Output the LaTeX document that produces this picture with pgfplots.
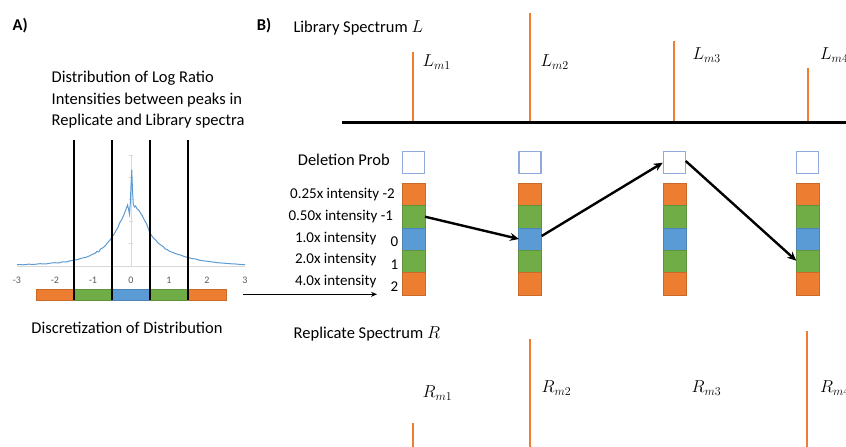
\documentclass[border=0pt]{standalone}
\usepackage{fontspec}
\setmainfont{Carlito}
\usepackage{pgfplots}
\pgfplotsset{compat=1.18}
\usepackage{pgfplotstable}
\usetikzlibrary{arrows.meta}

\definecolor{cOrange}{HTML}{ED7D31}
\definecolor{cGreen}{HTML}{70AD47}
\definecolor{cBlue}{HTML}{5B9BD5}
\definecolor{cBoxEdge}{HTML}{8FAADC}
\definecolor{cAxisGray}{HTML}{D9D9D9}
\definecolor{cTick}{HTML}{595959}

\pgfplotstableread{
x h
-3.00 1.5
-2.85 1.2
-2.70 1.8
-2.55 1.6
-2.40 2.3
-2.25 2.0
-2.10 3.0
-2.00 3.3
-1.90 3.0
-1.80 4.2
-1.70 4.0
-1.60 5.2
-1.50 5.8
-1.40 6.5
-1.30 7.8
-1.20 8.5
-1.10 10.0
-1.00 12.0
-0.95 12.5
-0.90 14.5
-0.85 14.0
-0.80 17.0
-0.75 18.0
-0.70 19.5
-0.65 21.5
-0.60 24.0
-0.55 26.0
-0.50 29.0
-0.45 31.5
-0.40 35.0
-0.35 38.0
-0.30 43.0
-0.25 46.0
-0.20 50.0
-0.15 55.0
-0.12 58.0
-0.09 61.0
-0.06 56.0
-0.04 52.0
-0.02 62.0
0.00 80.0
0.02 96.0
0.04 75.0
0.06 62.0
0.09 59.0
0.12 60.0
0.16 57.0
0.20 56.0
0.25 53.0
0.30 50.0
0.35 46.0
0.40 43.0
0.45 38.0
0.50 33.0
0.55 30.0
0.60 27.5
0.65 26.0
0.70 23.5
0.75 22.0
0.80 20.5
0.85 19.5
0.90 17.0
0.95 16.5
1.00 15.0
1.10 13.5
1.20 12.0
1.30 11.0
1.40 9.5
1.50 8.5
1.60 7.5
1.70 7.0
1.80 5.8
1.90 5.2
2.00 4.8
2.15 4.0
2.30 3.2
2.45 2.8
2.60 2.3
2.75 2.0
2.90 1.5
3.00 1.3
}\distdata

\newcommand\bigf{\fontsize{16.5}{20}\selectfont}
\newcommand\midf{\fontsize{15}{18}\selectfont}
\newcommand\mathf{\fontsize{17.5}{20}\selectfont}

\begin{document}
\begin{tikzpicture}[every node/.append style={inner sep=0pt}, font=\bigf]
\begin{axis}[name=main, at={(0pt,0pt)}, anchor=south west, scale only axis,
  width=846pt, height=447pt, xmin=0, xmax=846, ymin=0, ymax=447,
  y dir=reverse, hide axis, clip=true]
% library peaks
\addplot[cOrange, line width=2.3pt] coordinates {(413.3,122) (413.3,51.7)};
\addplot[cOrange, line width=2.3pt] coordinates {(530.0,122) (530.0,12.7)};
\addplot[cOrange, line width=2.3pt] coordinates {(674.3,122) (674.3,40.7)};
\addplot[cOrange, line width=2.3pt] coordinates {(807.7,122) (807.7,68.3)};
% library baseline
\addplot[black, line width=3pt] coordinates {(342,122.8) (850,122.8)};
% replicate peaks
\addplot[cOrange, line width=2.3pt] coordinates {(413.3,452) (413.3,422.7)};
\addplot[cOrange, line width=2.3pt] coordinates {(529.7,452) (529.7,339.3)};
\addplot[cOrange, line width=2.3pt] coordinates {(807.3,452) (807.3,330.7)};
% deletion boxes and state columns
\pgfplotsinvokeforeach{413.7,530.0,674.5,807.5}{
  \draw[cBoxEdge, line width=1.2pt, fill=white] ({#1-11},151.3) rectangle ({#1+11},173.3);
  \filldraw[fill=cOrange, draw=cOrange!85!black, line width=0.5pt] ({#1-11.3},183.3) rectangle ({#1+11.3},205.6);
  \filldraw[fill=cGreen, draw=cGreen!85!black, line width=0.5pt] ({#1-11.3},205.6) rectangle ({#1+11.3},227.9);
  \filldraw[fill=cBlue, draw=cBlue!85!black, line width=0.5pt] ({#1-11.3},227.9) rectangle ({#1+11.3},250.2);
  \filldraw[fill=cGreen, draw=cGreen!85!black, line width=0.5pt] ({#1-11.3},250.2) rectangle ({#1+11.3},272.5);
  \filldraw[fill=cOrange, draw=cOrange!85!black, line width=0.5pt] ({#1-11.3},272.5) rectangle ({#1+11.3},294.8);
}
% path arrows
\draw[black, line width=2.4pt, -{Stealth[length=9pt,width=8pt]}] (425,216.7) -- (519,239);
\draw[black, line width=2.4pt, -{Stealth[length=9pt,width=8pt]}] (541.7,236) -- (662.7,162.7);
\draw[black, line width=2.4pt, -{Stealth[length=9pt,width=8pt]}] (685.7,161) -- (796.3,260.7);
\draw[black, line width=1.3pt, -{Stealth[length=6pt,width=5pt]}] (243,294.3) -- (377,294.3);
% texts
\node[anchor=west] at (12.5,25.5) {\bfseries A)};
\node[anchor=west] at (256.7,25.5) {\bfseries B)};
\node[anchor=base west] at (51.5,82.3) {Distribution of Log Ratio};
\node[anchor=base west] at (51.5,104.0) {Intensities between peaks in};
\node[anchor=base west] at (51.5,125.7) {Replicate and Library spectra};
\node at (127,328) {Discretization of Distribution};
\node[anchor=base west] at (293.3,32.5) {Library Spectrum {\mathf$L$}};
\node[anchor=east] at (390,160) {Deletion Prob};
\node[anchor=base west] at (293.5,338.5) {Replicate Spectrum {\mathf$R$}};
\node[anchor=east, font=\midf] at (395,195) {0.25x intensity -2};
\node[anchor=east, font=\midf] at (393.3,216.7) {0.50x intensity -1};
\node[anchor=east, font=\midf] at (376.7,238.5) {1.0x intensity};
\node[anchor=east, font=\midf] at (376.7,259.3) {2.0x intensity};
\node[anchor=east, font=\midf] at (376.7,281.5) {4.0x intensity};
\node[font=\midf] at (394.5,241.5) {0};
\node[font=\midf] at (394.5,264.5) {1};
\node[font=\midf] at (394.5,286.7) {2};
\node[anchor=west, font=\mathf] at (422.5,62) {$L_{m1}$};
\node[anchor=west, font=\mathf] at (540.5,62) {$L_{m2}$};
\node[anchor=west, font=\mathf] at (692.5,55) {$L_{m3}$};
\node[anchor=west, font=\mathf] at (820,55) {$L_{m4}$};
\node[anchor=west, font=\mathf] at (422.5,393) {$R_{m1}$};
\node[anchor=west, font=\mathf] at (541.5,388) {$R_{m2}$};
\node[anchor=west, font=\mathf] at (691.5,388) {$R_{m3}$};
\node[anchor=west, font=\mathf] at (820,388) {$R_{m4}$};
\end{axis}

\begin{axis}[at={(17pt,181pt)}, anchor=south west, scale only axis,
  width=228pt, height=111pt, xmin=-3, xmax=3, ymin=0, ymax=111,
  axis x line=middle, axis y line=middle,
  axis line style={draw=cAxisGray, line width=0.8pt, -},
  x axis line style={-}, y axis line style={-},
  hide obscured x ticks=false, hide obscured y ticks=false,
  xtick={-3,-2,-1,0,1,2,3}, ytick={22.2,44.4,66.6,88.8,111}, yticklabels={},
  x tick style={draw=none}, y tick style={draw=cAxisGray, line width=0.6pt},
  major tick length=4pt,
  xticklabel style={font=\fontsize{10}{12}\selectfont, text=cTick, anchor=north, yshift=-9pt},
  /pgf/number format/assume math mode=true,
  clip=false]
\addplot[cBlue, line width=1pt] table[x=x, y=h] {\distdata};
% discretization bar
\filldraw[fill=cOrange, draw=cOrange!85!black, line width=0.5pt] (-2.5,-23) rectangle (-1.5,-34);
\filldraw[fill=cGreen, draw=cGreen!85!black, line width=0.5pt] (-1.5,-23) rectangle (-0.5,-34);
\filldraw[fill=cBlue, draw=cBlue!85!black, line width=0.5pt] (-0.5,-23) rectangle (0.5,-34);
\filldraw[fill=cGreen, draw=cGreen!85!black, line width=0.5pt] (0.5,-23) rectangle (1.5,-34);
\filldraw[fill=cOrange, draw=cOrange!85!black, line width=0.5pt] (1.5,-23) rectangle (2.5,-34);
% bin boundaries
\addplot[black, line width=2pt] coordinates {(-1.5,-34) (-1.5,126)};
\addplot[black, line width=2pt] coordinates {(-0.5,-34) (-0.5,126)};
\addplot[black, line width=2pt] coordinates {(0.5,-34) (0.5,126)};
\addplot[black, line width=2pt] coordinates {(1.5,-34) (1.5,126)};
\end{axis}
\pgfresetboundingbox
\path[use as bounding box] (0pt,0pt) rectangle (846pt,447pt);
\end{tikzpicture}
\end{document}
